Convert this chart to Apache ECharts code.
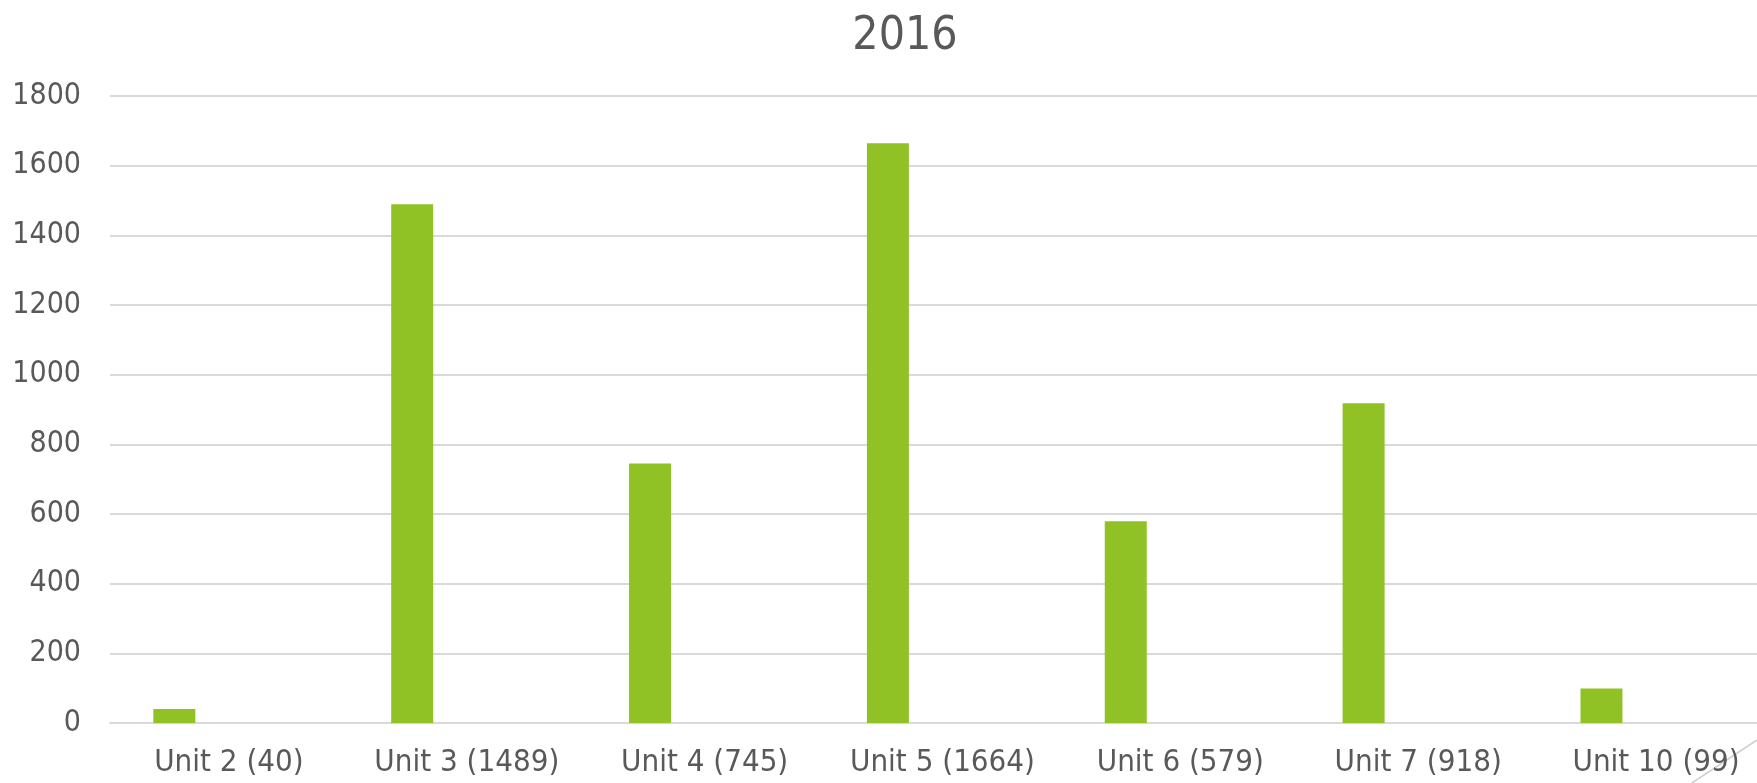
<!DOCTYPE html>
<html>
<head>
<meta charset="utf-8">
<script src="https://cdn.jsdelivr.net/npm/echarts@6/dist/echarts.min.js"></script>
<style>
    html, body {margin: 0; padding: 0; background: #fff; overflow: hidden;}
    /* chart is a bit wider than the window: the source picture crops the plot on the right */
    #main {width: 1775px; height: 783px;}
</style>
</head>
<body>
<div id="main"></div>
<script>
// data
var units = ['Unit 2 (40)', 'Unit 3 (1489)', 'Unit 4 (745)', 'Unit 5 (1664)', 'Unit 6 (579)', 'Unit 7 (918)', 'Unit 10 (99)'];
var counts = [40, 1489, 745, 1664, 579, 918, 99];
// the other two columns in each cluster are empty in the source
var emptyA = [];
var emptyB = [];

var font = "'DejaVu Sans Condensed', 'Liberation Sans Narrow', 'DejaVu Sans', sans-serif";
var grey = '#595959';

var chart = echarts.init(document.getElementById('main'));
var option = {
    animation: false,
    title: {
        text: '2016',
        left: 900,
        top: 9,
        textAlign: 'center',
        textStyle: {
            color: grey,
            fontFamily: font,
            fontWeight: 'normal',
            fontSize: 46
        }
    },
    grid: {
        left: 110,
        right: 0,
        top: 96,
        bottom: 60
    },
    xAxis: {
        type: 'category',
        data: units,
        axisTick: {show: false},
        axisLine: {lineStyle: {color: '#d9d9d9', width: 2}},
        axisLabel: {
            color: grey,
            fontFamily: font,
            fontSize: 31,
            margin: 24,
            interval: 0
        }
    },
    yAxis: {
        type: 'value',
        min: 0,
        max: 1800,
        interval: 200,
        axisLine: {show: false},
        axisTick: {show: false},
        splitLine: {lineStyle: {color: '#d9d9d9', width: 2}},
        axisLabel: {
            color: grey,
            fontFamily: font,
            fontSize: 30,
            margin: 29,
            formatter: function (v) {
                return String(v);
            }
        }
    },
    series: [
        {name: 'Series 1', type: 'bar', data: counts, barWidth: 42, barGap: '30%', itemStyle: {color: '#90c226'}},
        {name: 'Series 2', type: 'bar', data: emptyA, barWidth: 42, barGap: '30%'},
        {name: 'Series 3', type: 'bar', data: emptyB, barWidth: 42, barGap: '30%'}
    ],
    graphic: [{
        // resize-handle stroke in the lower right corner of the source
        type: 'line',
        shape: {x1: 1692, y1: 783, x2: 1757, y2: 740},
        style: {stroke: '#d0d0d0', lineWidth: 1.5}
    }]
};
chart.setOption(option);
</script>
</body>
</html>
